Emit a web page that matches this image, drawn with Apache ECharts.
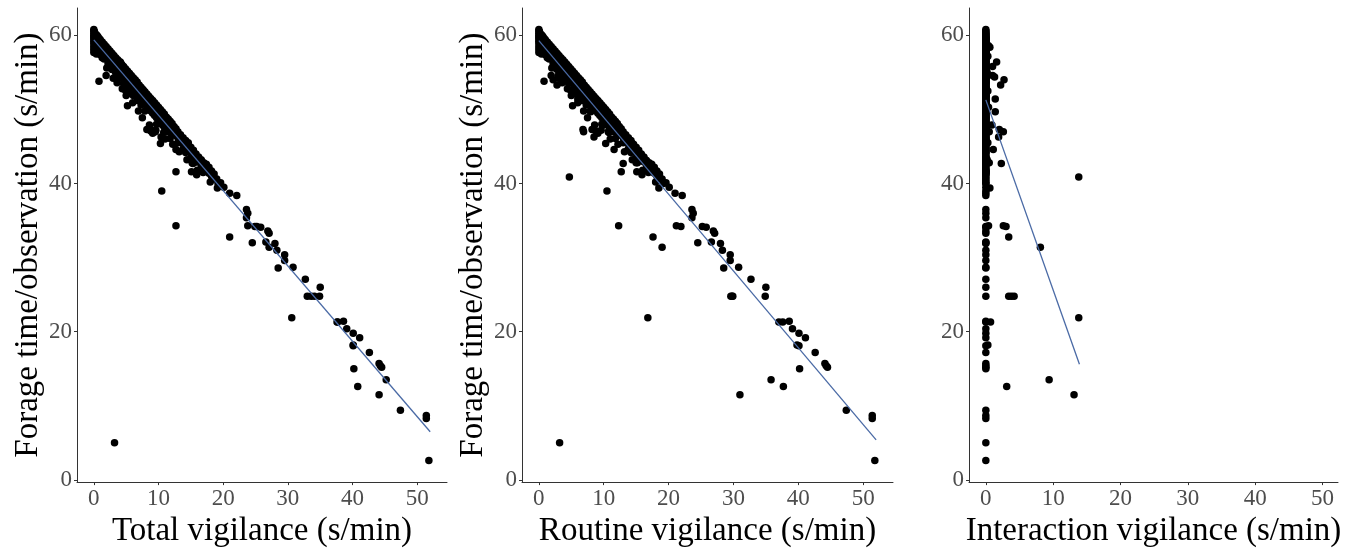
<!DOCTYPE html>
<html><head><meta charset="utf-8">
<script src="https://cdn.jsdelivr.net/npm/echarts@6/dist/echarts.min.js"></script>
<style>html,body{margin:0;padding:0;background:#fff}#c{width:1360px;height:553px}</style>
</head><body><div id="c"></div>
<script>
// Observations with zero interaction vigilance: [vigilance (total = routine), forage time]
const noInteraction = [
 [0,60.8],[0,60.6],[0,60.3],[0,60.0],[0,59.8],[0,59.5],[0,59.2],[0,58.9],[0,58.5],[0,58.1],[0,57.7],
 [0.1,60.5],[0.1,59.6],[0.1,58.3],
 [0.2,60.2],[0.2,59.4],[0.2,58.8],[0.2,57.9],
 [0.4,60.1],[0.4,59.6],[0.4,59.0],[0.4,58.2],[0.4,57.5],
 [0.6,59.9],[0.6,59.2],[0.6,58.6],[0.6,57.8],
 [0.8,59.6],[0.8,58.9],[0.8,58.3],[0.8,53.8],
 [1.0,59.4],[1.0,58.8],[1.0,58.1],[1.0,57.4],
 [1.3,59.1],[1.3,58.5],[1.3,57.9],[1.3,57.0],
 [1.6,58.8],[1.6,58.2],[1.6,57.5],[1.6,56.8],
 [1.9,58.5],[1.9,57.8],[1.9,57.1],[1.9,54.6],[2.0,55.6],
 [2.2,58.2],[2.2,57.6],[2.2,56.9],[2.2,56.2],
 [2.5,57.9],[2.5,57.2],[2.5,56.5],
 [2.8,57.6],[2.8,57.0],[2.8,56.3],[2.8,55.4],[3.0,54.2],
 [3.1,57.3],[3.1,56.6],[3.1,55.9],[3.2,5.0],
 [3.4,57.0],[3.4,56.3],[3.4,55.6],[3.4,54.9],[3.6,53.6],
 [3.7,56.7],[3.7,56.0],[3.7,55.2],
 [4.0,56.4],[4.0,55.7],[4.0,55.0],[4.0,54.2],
 [4.3,56.1],[4.3,55.4],[4.3,54.6],[4.4,52.8],
 [4.6,55.8],[4.6,55.0],[4.6,54.3],[4.6,53.5],
 [4.9,55.5],[4.9,54.8],[4.9,53.9],[4.9,52.6],[5.0,51.9],
 [5.2,55.2],[5.2,54.4],[5.2,53.6],[5.2,50.5],
 [5.5,54.9],[5.5,54.1],[5.5,53.2],[5.5,52.2],
 [5.8,54.6],[5.8,53.8],[5.8,53.0],[6.0,50.9],
 [6.1,54.3],[6.1,53.5],[6.1,52.6],[6.1,51.9],
 [6.4,54.0],[6.4,53.2],[6.4,52.3],
 [6.7,53.7],[6.7,52.9],[6.7,52.0],[6.7,51.2],[6.9,49.8],
 [7.0,53.3],[7.0,52.6],[7.0,51.7],
 [7.3,53.0],[7.3,52.3],[7.3,51.4],[7.3,50.6],[7.5,48.9],
 [7.6,52.7],[7.6,51.9],[7.6,51.1],
 [7.9,52.4],[7.9,51.6],[7.9,50.8],[7.9,49.8],
 [8.2,52.1],[8.2,51.3],[8.2,50.5],[8.2,47.3],
 [8.5,51.8],[8.5,51.0],[8.5,50.1],[8.6,47.9],
 [8.8,51.5],[8.8,50.7],[8.8,49.8],[8.8,47.1],
 [9.1,51.2],[9.1,50.4],[9.1,49.5],[9.1,46.8],
 [9.4,50.9],[9.4,50.1],[9.4,49.2],[9.6,47.2],
 [9.7,50.6],[9.7,49.8],[9.7,48.9],[9.7,48.0],
 [10.0,50.3],[10.0,49.5],[10.0,48.6],
 [10.3,50.0],[10.3,49.2],[10.3,48.3],[10.3,45.4],[10.5,39.0],
 [10.6,49.7],[10.6,48.9],[10.6,47.9],[10.8,46.9],
 [10.9,49.4],[10.9,48.5],[10.9,47.6],[11.0,46.0],
 [11.2,49.0],[11.2,48.2],[11.2,47.3],
 [11.5,48.7],[11.5,47.9],[11.5,47.0],
 [11.8,48.4],[11.8,47.6],[11.8,46.1],
 [12.1,48.1],[12.1,47.3],[12.1,46.6],[12.2,45.3],
 [12.4,47.7],[12.4,46.9],
 [12.7,47.4],[12.7,46.5],[12.7,41.6],
 [13.0,47.0],[13.0,46.2],[13.0,45.5],[13.2,44.3],
 [13.4,46.6],[13.4,45.8],
 [13.8,46.2],[13.8,45.4],[13.8,44.7],
 [14.2,45.8],[14.2,45.0],[14.2,44.2],[14.4,43.2],
 [14.6,45.3],[14.6,44.6],
 [15.0,44.9],[15.0,44.2],[15.0,43.5],[15.1,41.6],
 [15.4,44.5],[15.4,43.7],[15.2,42.8],
 [15.8,44.0],[15.8,43.3],[15.9,41.2],[16.0,41.8],
 [16.2,43.6],[16.2,42.9],
 [16.6,43.1],[16.6,42.5],[16.9,41.5],
 [17.0,42.8],[17.0,42.1],
 [17.4,42.6],[17.4,41.8],
 [17.8,42.2],[17.8,41.4],[18.0,40.2],
 [18.2,41.7],[18.2,41.0],
 [18.6,41.3],[18.6,40.6],[19.0,40.6],[19.6,40.1],
 [19.2,40.0],[20.1,39.5],[21.0,38.7],[22.1,38.4],
 [23.6,36.5],[23.8,36.0],[23.6,35.4],[25.2,34.2],[25.8,34.1],
 [24.5,32.0],[26.6,32.1],[26.9,33.6],[27.1,33.3],
 [28.0,31.9],[28.3,31.0],[28.5,28.6],[29.5,30.4],[29.5,29.6],[30.8,28.7],
 [32.7,27.1],[34.9,24.8],[35.0,26.0],
 [37.6,21.3],[38.6,21.4],[39.1,20.4],[40.1,19.8],[41.1,19.2],[40.1,18.1],[40.2,15.0],
 [42.6,17.2],[44.1,15.7],[44.3,15.4],[44.5,15.2],[47.4,9.4],
 [51.4,8.7],[51.4,8.3],[51.8,2.6]
];

// Observations with interaction vigilance: [forage, routine, interaction, total]
const withInteraction = [
 [57.2,2.5,0.3,2.8],[55.0,5.0,0.2,5.2],[52.5,7.4,0.3,7.7],[50.3,9.0,0.4,9.4],
 [45.5,14.3,0.3,14.6],[43.2,16.4,0.2,16.6],
 [56.4,2.5,1.6,4.1],[55.8,3.5,1.0,4.5],[58.4,1.2,0.6,1.8],[58.6,0.8,0.4,1.2],
 [54.0,2.2,2.7,4.9],[53.3,2.8,2.2,5.0],[54.4,3.3,1.3,4.6],[54.6,3.0,1.0,4.0],
 [51.4,6.0,1.4,7.4],[49.7,8.0,1.4,9.4],[47.9,10.0,0.9,10.9],
 [47.3,6.8,2.0,8.8],[47.0,6.9,2.6,9.5],[46.3,8.5,1.9,10.4],[47.0,10.7,0.5,11.2],
 [44.6,11.6,1.1,12.7],[42.7,13.0,2.3,15.3],[42.8,15.0,0.5,15.5],
 [39.4,18.5,0.6,19.1],[40.9,4.7,13.8,18.5],
 [34.3,21.2,2.6,23.8],[34.2,21.9,3.0,24.9],[34.3,12.3,0.4,12.7],
 [32.8,17.6,3.4,21.0],[31.4,19.0,8.1,27.1],
 [24.8,29.6,3.4,33.0],[24.8,29.8,3.8,33.6],[24.8,29.9,4.2,34.1],
 [21.3,37.0,0.7,37.7],[21.9,16.8,13.8,30.6],[18.2,39.8,0.3,40.1],
 [12.6,37.7,3.1,40.8],[13.5,35.8,9.4,45.2],[11.5,31.0,13.1,44.1]
];

// Fitted regression lines: [x, y] endpoints
const fitTotal = [[0,59.4],[52,6.5]];
const fitRoutine = [[0,59.3],[52,5.4]];
const fitInteraction = [[0,51.3],[13.9,15.6]];

const xTicks = [0,10,20,30,40,50];
const yTicks = [0,20,40,60];
const xTitles = ['Total vigilance (s/min)','Routine vigilance (s/min)','Interaction vigilance (s/min)'];
const yTitle = 'Forage time/observation (s/min)';

const totalData = noInteraction.map(p => [p[0], p[1]]).concat(withInteraction.map(r => [r[3], r[0]]));
const routineData = noInteraction.map(p => [p[0], p[1]]).concat(withInteraction.map(r => [r[1], r[0]]));
const interactionData = noInteraction.map(p => [0, p[1]]).concat(withInteraction.map(r => [r[2], r[0]]));

const FONT = '"Liberation Serif","Times New Roman",serif';
const grids = [
  {left:77, top:8, width:370, height:478},
  {left:522, top:8, width:371, height:478},
  {left:969, top:8, width:369, height:478}
];
const xRanges = [[-2.6,54.6],[-2.6,54.6],[-2.5,52.3]];

function xAxis(i){
  return {
    type:'value', gridIndex:i, min:xRanges[i][0], max:xRanges[i][1],
    name:xTitles[i], nameLocation:'middle', nameGap:25,
    nameTextStyle:{fontFamily:FONT, fontSize:33, color:'#000'},
    splitLine:{show:false},
    axisLine:{show:true, onZero:false, lineStyle:{color:'#333', width:1}},
    axisTick:{show:true, length:3, customValues:xTicks, lineStyle:{color:'#333'}},
    axisLabel:{customValues:xTicks, fontFamily:FONT, fontSize:23, color:'#4d4d4d', margin:5}
  };
}
function yAxis(i){
  return {
    type:'value', gridIndex:i, min:-0.3, max:63.7,
    name: i < 2 ? yTitle : '', nameLocation:'middle', nameGap:30,
    nameTextStyle:{fontFamily:FONT, fontSize:33, color:'#000'},
    splitLine:{show:false},
    axisLine:{show:true, onZero:false, lineStyle:{color:'#333', width:1}},
    axisTick:{show:true, length:3, customValues:yTicks, lineStyle:{color:'#333'}},
    axisLabel:{customValues:yTicks, fontFamily:FONT, fontSize:23, color:'#4d4d4d', margin:5}
  };
}

const datasets = [totalData, routineData, interactionData];
const fits = [fitTotal, fitRoutine, fitInteraction];
const series = [];
for (let i = 0; i < 3; i++) {
  series.push({type:'scatter', xAxisIndex:i, yAxisIndex:i, data:datasets[i],
    symbolSize:7.5, itemStyle:{color:'#000', opacity:1}, z:2, silent:true});
  series.push({type:'line', xAxisIndex:i, yAxisIndex:i, data:fits[i],
    showSymbol:false, lineStyle:{color:'#4a6aa5', width:1.3}, z:3, silent:true});
}

const chart = echarts.init(document.getElementById('c'), null, {renderer:'canvas'});
chart.setOption({
  animation:false,
  backgroundColor:'#fff',
  grid:grids,
  xAxis:[xAxis(0), xAxis(1), xAxis(2)],
  yAxis:[yAxis(0), yAxis(1), yAxis(2)],
  series:series
});
</script></body></html>
